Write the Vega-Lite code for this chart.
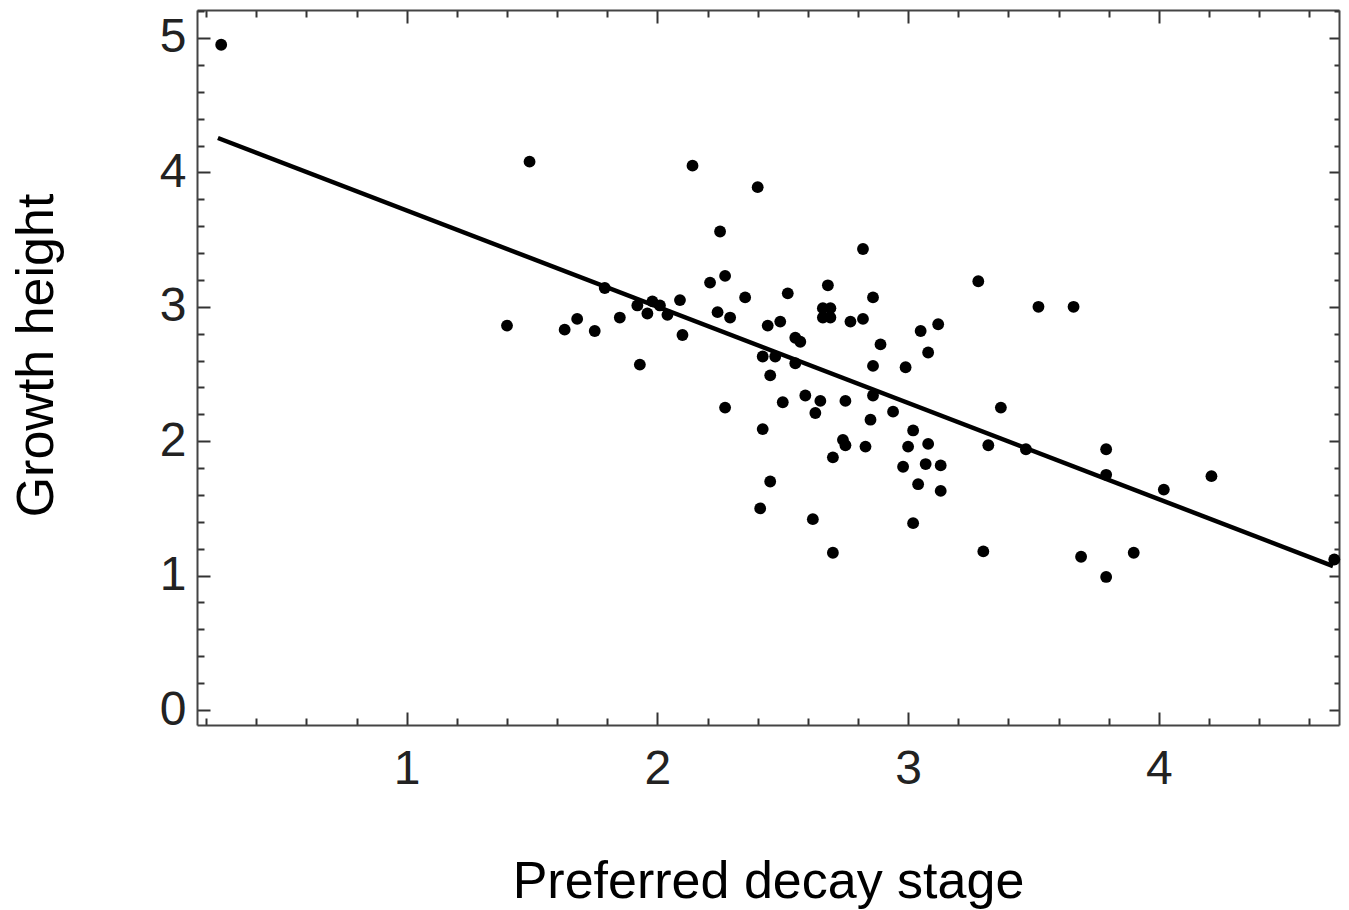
{
  "$schema": "https://vega.github.io/schema/vega-lite/v6.json",
  "width": 1142,
  "height": 715,
  "autosize": {"type": "none"},
  "padding": {"left": 197, "top": 10, "right": 10, "bottom": 185},
  "background": "white",
  "config": {
    "view": {"stroke": null},
    "axis": {
      "grid": false,
      "domainColor": "#444444",
      "domainWidth": 2,
      "tickColor": "#333333",
      "tickWidth": 2,
      "labelFont": "Liberation Sans",
      "labelFontSize": 48,
      "labelColor": "#222222",
      "labelOverlap": false,
      "labelFlush": false,
      "titleFont": "Liberation Sans",
      "titleFontSize": 52,
      "titleFontWeight": "normal",
      "titleColor": "#000000"
    }
  },
  "datasets": {
    "points": [
      {"stage": 0.26, "height": 4.95}, {"stage": 1.49, "height": 4.08}, {"stage": 2.14, "height": 4.05},
      {"stage": 2.40, "height": 3.89}, {"stage": 2.25, "height": 3.56}, {"stage": 2.82, "height": 3.43},
      {"stage": 3.28, "height": 3.19}, {"stage": 1.40, "height": 2.86}, {"stage": 1.79, "height": 3.14},
      {"stage": 1.63, "height": 2.83}, {"stage": 1.68, "height": 2.91}, {"stage": 1.75, "height": 2.82},
      {"stage": 1.85, "height": 2.92}, {"stage": 1.92, "height": 3.01}, {"stage": 1.98, "height": 3.04},
      {"stage": 2.01, "height": 3.01}, {"stage": 1.96, "height": 2.95}, {"stage": 2.04, "height": 2.94},
      {"stage": 1.93, "height": 2.57}, {"stage": 2.09, "height": 3.05}, {"stage": 2.10, "height": 2.79},
      {"stage": 2.21, "height": 3.18}, {"stage": 2.27, "height": 3.23}, {"stage": 2.24, "height": 2.96},
      {"stage": 2.29, "height": 2.92}, {"stage": 2.35, "height": 3.07}, {"stage": 2.27, "height": 2.25},
      {"stage": 2.44, "height": 2.86}, {"stage": 2.49, "height": 2.89}, {"stage": 2.52, "height": 3.10},
      {"stage": 2.55, "height": 2.77}, {"stage": 2.57, "height": 2.74}, {"stage": 2.42, "height": 2.63},
      {"stage": 2.47, "height": 2.63}, {"stage": 2.55, "height": 2.58}, {"stage": 2.45, "height": 2.49},
      {"stage": 2.42, "height": 2.09}, {"stage": 2.50, "height": 2.29}, {"stage": 2.45, "height": 1.70},
      {"stage": 2.41, "height": 1.50}, {"stage": 2.62, "height": 1.42}, {"stage": 2.70, "height": 1.17},
      {"stage": 2.59, "height": 2.34}, {"stage": 2.63, "height": 2.21}, {"stage": 2.65, "height": 2.30},
      {"stage": 2.70, "height": 1.88}, {"stage": 2.75, "height": 2.30}, {"stage": 2.74, "height": 2.01},
      {"stage": 2.75, "height": 1.97}, {"stage": 2.68, "height": 3.16}, {"stage": 2.66, "height": 2.99},
      {"stage": 2.69, "height": 2.99}, {"stage": 2.66, "height": 2.92}, {"stage": 2.69, "height": 2.92},
      {"stage": 2.77, "height": 2.89}, {"stage": 2.82, "height": 2.91}, {"stage": 2.86, "height": 3.07},
      {"stage": 2.89, "height": 2.72}, {"stage": 2.86, "height": 2.56}, {"stage": 2.86, "height": 2.34},
      {"stage": 2.85, "height": 2.16}, {"stage": 2.83, "height": 1.96}, {"stage": 2.94, "height": 2.22},
      {"stage": 2.99, "height": 2.55}, {"stage": 3.05, "height": 2.82}, {"stage": 3.12, "height": 2.87},
      {"stage": 3.08, "height": 2.66}, {"stage": 3.02, "height": 2.08}, {"stage": 3.00, "height": 1.96},
      {"stage": 2.98, "height": 1.81}, {"stage": 3.07, "height": 1.83}, {"stage": 3.08, "height": 1.98},
      {"stage": 3.13, "height": 1.82}, {"stage": 3.04, "height": 1.68}, {"stage": 3.13, "height": 1.63},
      {"stage": 3.02, "height": 1.39}, {"stage": 3.30, "height": 1.18}, {"stage": 3.32, "height": 1.97},
      {"stage": 3.37, "height": 2.25}, {"stage": 3.47, "height": 1.94}, {"stage": 3.52, "height": 3.00},
      {"stage": 3.66, "height": 3.00}, {"stage": 3.69, "height": 1.14}, {"stage": 3.79, "height": 1.94},
      {"stage": 3.79, "height": 1.75}, {"stage": 3.79, "height": 0.99}, {"stage": 3.90, "height": 1.17},
      {"stage": 4.02, "height": 1.64}, {"stage": 4.21, "height": 1.74}, {"stage": 4.70, "height": 1.12}
    ],
    "fit": [
      {"stage": 0.247, "height": 4.256},
      {"stage": 4.695, "height": 1.071}
    ]
  },
  "layer": [
    {
      "data": {"name": "points"},
      "mark": {"type": "circle", "size": 140, "color": "#000000", "opacity": 1},
      "encoding": {
        "x": {
          "field": "stage", "type": "quantitative",
          "scale": {"domain": [0.1635, 4.7188], "nice": false, "zero": false},
          "axis": {
            "orient": "bottom",
            "title": "Preferred decay stage",
            "values": [0.2, 0.4, 0.6, 0.8, 1, 1.2, 1.4, 1.6, 1.8, 2, 2.2, 2.4, 2.6, 2.8, 3, 3.2, 3.4, 3.6, 3.8, 4, 4.2, 4.4, 4.6],
            "labelExpr": "datum.value % 1 === 0 ? format(datum.value, 'd') : ''",
            "tickSize": {"condition": {"test": "datum.value % 1 === 0", "value": -13}, "value": -7},
            "labelPadding": 33,
            "titleX": 571,
            "titleY": 172,
            "titleBaseline": "alphabetic",
            "titleAlign": "center"
          }
        },
        "y": {
          "field": "height", "type": "quantitative",
          "scale": {"domain": [-0.1116, 5.2083], "nice": false, "zero": false},
          "axis": {
            "orient": "left",
            "title": "Growth height",
            "values": [0, 0.2, 0.4, 0.6, 0.8, 1, 1.2, 1.4, 1.6, 1.8, 2, 2.2, 2.4, 2.6, 2.8, 3, 3.2, 3.4, 3.6, 3.8, 4, 4.2, 4.4, 4.6, 4.8, 5, 5.2],
            "labelExpr": "datum.value % 1 === 0 ? format(datum.value, 'd') : ''",
            "tickSize": {"condition": {"test": "datum.value % 1 === 0", "value": -13}, "value": -7},
            "labelPadding": 24,
            "titleX": -145,
            "titleY": 345,
            "titleAngle": 270,
            "titleBaseline": "alphabetic",
            "titleAlign": "center"
          }
        }
      }
    },
    {
      "data": {"name": "fit"},
      "mark": {"type": "line", "color": "#000000", "strokeWidth": 4.5},
      "encoding": {
        "x": {
          "field": "stage", "type": "quantitative",
          "scale": {"domain": [0.1635, 4.7188], "nice": false, "zero": false},
          "axis": {
            "orient": "top",
            "title": null,
            "labels": false,
            "values": [0.2, 0.4, 0.6, 0.8, 1, 1.2, 1.4, 1.6, 1.8, 2, 2.2, 2.4, 2.6, 2.8, 3, 3.2, 3.4, 3.6, 3.8, 4, 4.2, 4.4, 4.6],
            "tickSize": {"condition": {"test": "datum.value % 1 === 0", "value": -13}, "value": -7}
          }
        },
        "y": {
          "field": "height", "type": "quantitative",
          "scale": {"domain": [-0.1116, 5.2083], "nice": false, "zero": false},
          "axis": {
            "orient": "right",
            "title": null,
            "labels": false,
            "values": [0, 0.2, 0.4, 0.6, 0.8, 1, 1.2, 1.4, 1.6, 1.8, 2, 2.2, 2.4, 2.6, 2.8, 3, 3.2, 3.4, 3.6, 3.8, 4, 4.2, 4.4, 4.6, 4.8, 5, 5.2],
            "tickSize": {"condition": {"test": "datum.value % 1 === 0", "value": -10}, "value": -5}
          }
        }
      }
    }
  ],
  "resolve": {
    "scale": {"x": "independent", "y": "independent"},
    "axis": {"x": "independent", "y": "independent"}
  }
}
